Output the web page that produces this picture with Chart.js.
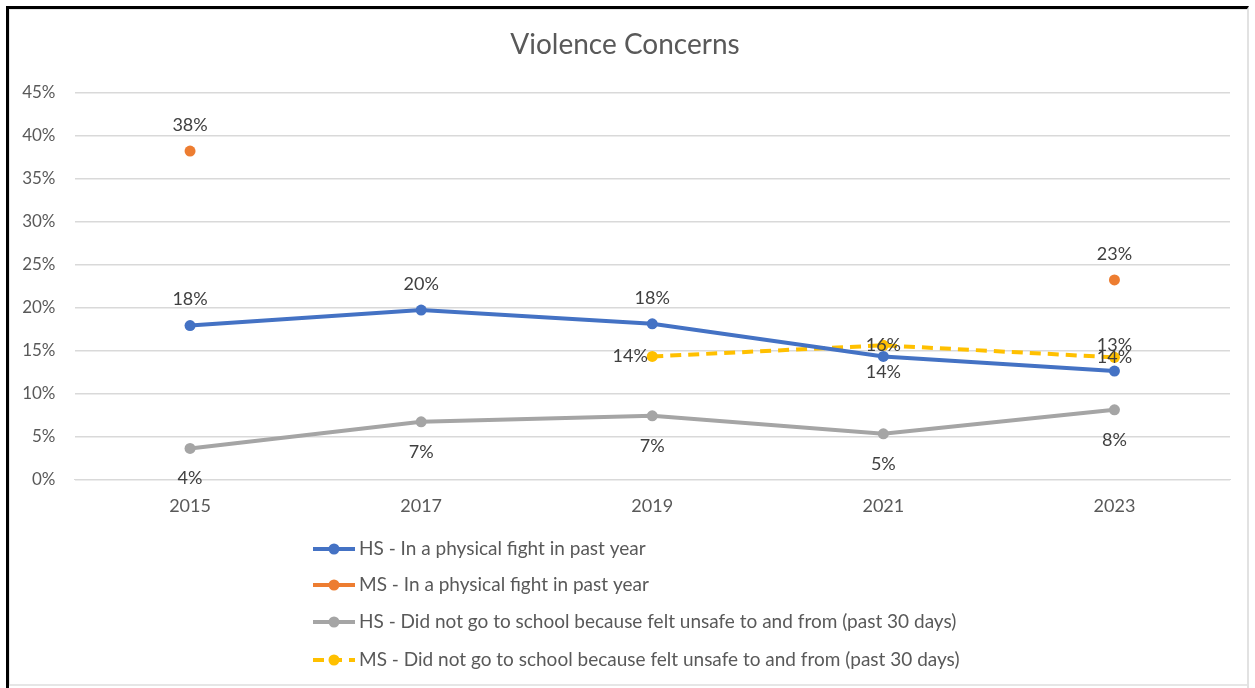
<!DOCTYPE html>
<html>
<head>
<meta charset="utf-8">
<script src="https://cdn.jsdelivr.net/npm/chart.js@4/dist/chart.umd.min.js"></script>
<style>
  html, body { margin: 0; padding: 0; background: #fff; }
  #wrap { position: relative; width: 1255px; height: 688px; }
  #frame {
    position: absolute; left: 6px; top: 6px; width: 1243px; height: 682px;
    border-left: 3px solid #000; border-top: 3px solid #000;
    border-right: 2px solid #e2e2e2; box-sizing: border-box; pointer-events: none;
  }
  #frameIn {
    position: absolute; left: 9px; top: 9px; width: 1240px; height: 677px;
    border-bottom: 2px solid #e6e6e6; border-left: 1px solid #e6e6e6; border-top: 1px solid #e6e6e6;
    box-sizing: border-box; pointer-events: none;
  }
  canvas { position: absolute; left: 0; top: 0; }
</style>
</head>
<body>
<div id="wrap">
  <canvas id="chart" width="1255" height="688"></canvas>
  <div id="frameIn"></div>
  <div id="frame"></div>
</div>
<script>
const years = ['2015', '2017', '2019', '2021', '2023'];
const hsFight = [17.9, 19.7, 18.1, 14.3, 12.6];
const msFight = [38.2, null, null, null, 23.2];
const hsUnsafe = [3.6, 6.7, 7.4, 5.3, 8.1];
const msUnsafe = [null, null, 14.3, 15.6, 14.2];
const seriesNames = [
  'HS - In a physical fight in past year',
  'MS - In a physical fight in past year',
  'HS - Did not go to school because felt unsafe to and from (past 30 days)',
  'MS - Did not go to school because felt unsafe to and from (past 30 days)',
];
const yTicks = [0, 5, 10, 15, 20, 25, 30, 35, 40, 45];

// where each data label sits relative to its point
const labelPos = [
  ['above', 'above', 'above', 'below', 'above'],
  ['above', null, null, null, 'above'],
  ['below', 'below', 'below', 'below', 'below'],
  [null, null, 'left', 'center', 'center'],
];

const textColor = '#595959';
const font = 'Lato, "Open Sans", sans-serif';

const dataLabels = {
  id: 'dataLabels',
  afterDatasetsDraw(chart) {
    const ctx = chart.ctx;
    ctx.save();
    ctx.font = `18px ${font}`;
    ctx.fillStyle = '#404040';
    ctx.textAlign = 'center';
    ctx.textBaseline = 'middle';
    chart.data.datasets.forEach((ds, i) => {
      const meta = chart.getDatasetMeta(i);
      meta.data.forEach((pt, j) => {
        const v = ds.data[j];
        const pos = labelPos[i][j];
        if (v === null || !pos) return;
        let x = pt.x;
        let y = pt.y;
        if (pos === 'above') y -= 26;
        if (pos === 'below') y += i === 2 ? 30 : 16;
        if (pos === 'left') x -= 22;
        ctx.fillText(`${Math.round(v)}%`, x, y);
      });
    });
    ctx.restore();
  },
};

const bottomLegend = {
  id: 'bottomLegend',
  afterDraw(chart) {
    const ctx = chart.ctx;
    ctx.save();
    ctx.font = `19px ${font}`;
    ctx.textBaseline = 'middle';
    const rows = [549, 585, 622, 660];
    chart.data.datasets.forEach((ds, i) => {
      const y = rows[i];
      const x0 = 313;
      ctx.strokeStyle = ds.borderColor;
      ctx.lineWidth = 4;
      ctx.setLineDash(ds.borderDash || []);
      ctx.beginPath();
      ctx.moveTo(x0, y);
      ctx.lineTo(x0 + 42, y);
      ctx.stroke();
      ctx.setLineDash([]);
      ctx.fillStyle = ds.borderColor;
      ctx.beginPath();
      ctx.arc(x0 + 21, y, 5.5, 0, Math.PI * 2);
      ctx.fill();
      ctx.fillStyle = textColor;
      ctx.fillText(ds.label, x0 + 46, y);
    });
    ctx.restore();
  },
};

function makeSet(label, data, color, dash) {
  return {
    label,
    data,
    borderColor: color,
    backgroundColor: color,
    borderWidth: 4,
    borderDash: dash || [],
    pointRadius: 5.5,
    pointHoverRadius: 5.5,
    pointBorderWidth: 0,
    tension: 0,
    spanGaps: false,
  };
}

new Chart(document.getElementById('chart'), {
  type: 'line',
  data: {
    labels: years,
    datasets: [
      makeSet(seriesNames[0], hsFight, '#4472C4'),
      makeSet(seriesNames[1], msFight, '#ED7D31'),
      makeSet(seriesNames[2], hsUnsafe, '#A5A5A5'),
      makeSet(seriesNames[3], msUnsafe, '#FFC000', [11, 7]),
    ],
  },
  plugins: [dataLabels, bottomLegend],
  options: {
    responsive: false,
    animation: false,
    layout: { padding: { left: 20, right: 25, top: 0, bottom: 155 } },
    plugins: {
      legend: { display: false },
      tooltip: { enabled: false },
      title: {
        display: true,
        text: 'Violence Concerns',
        color: textColor,
        font: { family: font, size: 28, weight: 'normal' },
        padding: { top: 28, bottom: 31 },
      },
    },
    scales: {
      x: {
        offset: true,
        grid: { display: false, drawTicks: false },
        border: { display: true, color: '#d9d9d9', width: 1 },
        ticks: { color: textColor, font: { family: font, size: 18 }, padding: 16 },
      },
      y: {
        min: 0,
        max: 45,
        afterBuildTicks(scale) {
          scale.ticks = yTicks.map((v) => ({ value: v }));
        },
        afterFit(scale) { scale.width = 54.5; },
        grid: { color: '#d9d9d9', lineWidth: 1.5, drawTicks: false },
        border: { display: false },
        ticks: {
          color: textColor,
          font: { family: font, size: 17 },
          padding: 19,
          callback: (v) => `${v}%`,
        },
      },
    },
  },
});
</script>
</body>
</html>
